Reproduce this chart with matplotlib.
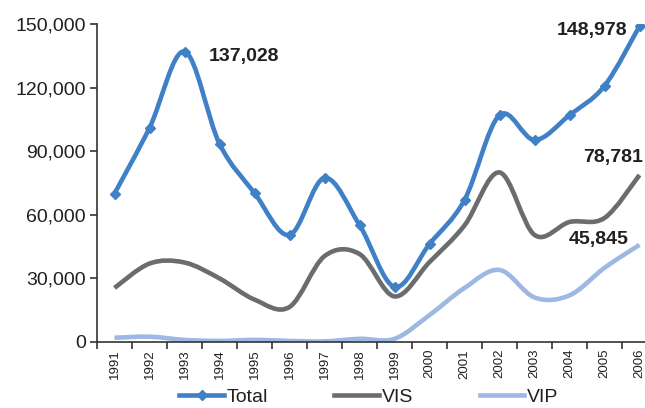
import numpy as np
import matplotlib
matplotlib.use("Agg")
import matplotlib.pyplot as plt
from matplotlib.path import Path
from matplotlib.patches import PathPatch
from matplotlib import font_manager as fm
from matplotlib.ticker import FuncFormatter, MultipleLocator, FixedLocator

years = [str(y) for y in range(1991, 2007)]
total = [70000, 101000, 137028, 93500, 70300, 50500, 77400, 55200, 26000, 46200, 67000, 107000, 95300, 107000, 120800, 148978]
vis = [25500, 37000, 37500, 30000, 20000, 16500, 40500, 41500, 21500, 37700, 55000, 80000, 50500, 56600, 58500, 78781]
vip = [2000, 2500, 1000, 500, 1000, 500, 300, 1500, 1500, 12700, 25500, 34000, 21000, 22000, 35000, 45845]

names = {f.name for f in fm.fontManager.ttflist}
fam = "Liberation Sans Narrow" if "Liberation Sans Narrow" in names else "Liberation Sans"
plt.rcParams['font.family'] = [fam, 'DejaVu Sans']

C_TOTAL = "#3F80C6"
C_VIS = "#6B6C6E"
C_VIP = "#9DB8E2"
TXT = "#231F20"

W, H = 645, 408
fig = plt.figure(figsize=(W/100, H/100), dpi=100)
ax = fig.add_axes([97/W, 66/H, 560/W, 318/H])
ax.set_xlim(-0.5, 15.5)
ax.set_ylim(0, 150000)


def smooth_path(xs, ys):
    pts = np.column_stack([xs, ys]).astype(float)
    n = len(pts)
    verts = [pts[0]]
    codes = [Path.MOVETO]
    for i in range(n - 1):
        p0 = pts[i - 1] if i > 0 else pts[i]
        p1 = pts[i]
        p2 = pts[i + 1]
        p3 = pts[i + 2] if i + 2 < n else pts[i + 1]
        c1 = p1 + (p2 - p0) / 6.0
        c2 = p2 - (p3 - p1) / 6.0
        verts += [c1, c2, p2]
        codes += [Path.CURVE4] * 3
    return Path(verts, codes)


x = np.arange(len(years))
lw = 3.3
for ys, col, z in [(vip, C_VIP, 2), (vis, C_VIS, 3), (total, C_TOTAL, 4)]:
    ax.add_patch(PathPatch(smooth_path(x, ys), facecolor='none', edgecolor=col, lw=lw,
                           capstyle='butt', joinstyle='round', zorder=z))
ax.plot(x, total, linestyle='none', marker='D', markersize=5.5, color=C_TOTAL, zorder=5)

# legend proxies
ax.plot([], [], color=C_TOTAL, lw=lw, marker='D', markersize=5.5, label='Total')
ax.plot([], [], color=C_VIS, lw=lw, label='VIS')
ax.plot([], [], color=C_VIP, lw=lw, label='VIP')

ax.yaxis.set_major_locator(MultipleLocator(30000))
ax.yaxis.set_major_formatter(FuncFormatter(lambda v, p: f"{int(v):,}"))
ax.set_xticks(x)
ax.set_xticklabels(years, rotation=90, fontsize=9.5)
ax.xaxis.set_minor_locator(FixedLocator(np.arange(-0.5, 16, 1)))
ax.tick_params(axis='x', which='major', length=0, pad=5, labelcolor=TXT)
ax.tick_params(axis='x', which='minor', length=5, width=1.2, color='#333333', direction='out')
ax.tick_params(axis='y', length=5, width=1.2, color='#333333', labelsize=14, labelcolor=TXT, pad=3)

for s in ['top', 'right']:
    ax.spines[s].set_visible(False)
for s in ['left', 'bottom']:
    ax.spines[s].set_color('#333333')
    ax.spines[s].set_linewidth(1.2)

lab_kw = dict(textcoords='offset pixels', fontsize=14, fontweight='bold', color=TXT, va='center')
ax.annotate("137,028", xy=(2, total[2]), xytext=(24, -5), ha='left', **lab_kw)
ax.annotate("148,978", xy=(15, total[15]), xytext=(-12, -4), ha='right', **lab_kw)
ax.annotate("78,781", xy=(15, vis[15]), xytext=(4, 17), ha='right', **lab_kw)
ax.annotate("45,845", xy=(15, vip[15]), xytext=(-11, 5), ha='right', **lab_kw)

leg = fig.legend(loc='center', bbox_to_anchor=(369/W, 11/H), ncol=3, frameon=False,
                 fontsize=14, handlelength=2.3, handletextpad=0.15, columnspacing=3.4,
                 borderpad=0, borderaxespad=0)
for t in leg.get_texts():
    t.set_color(TXT)

fig.savefig("out.png", dpi=100)
